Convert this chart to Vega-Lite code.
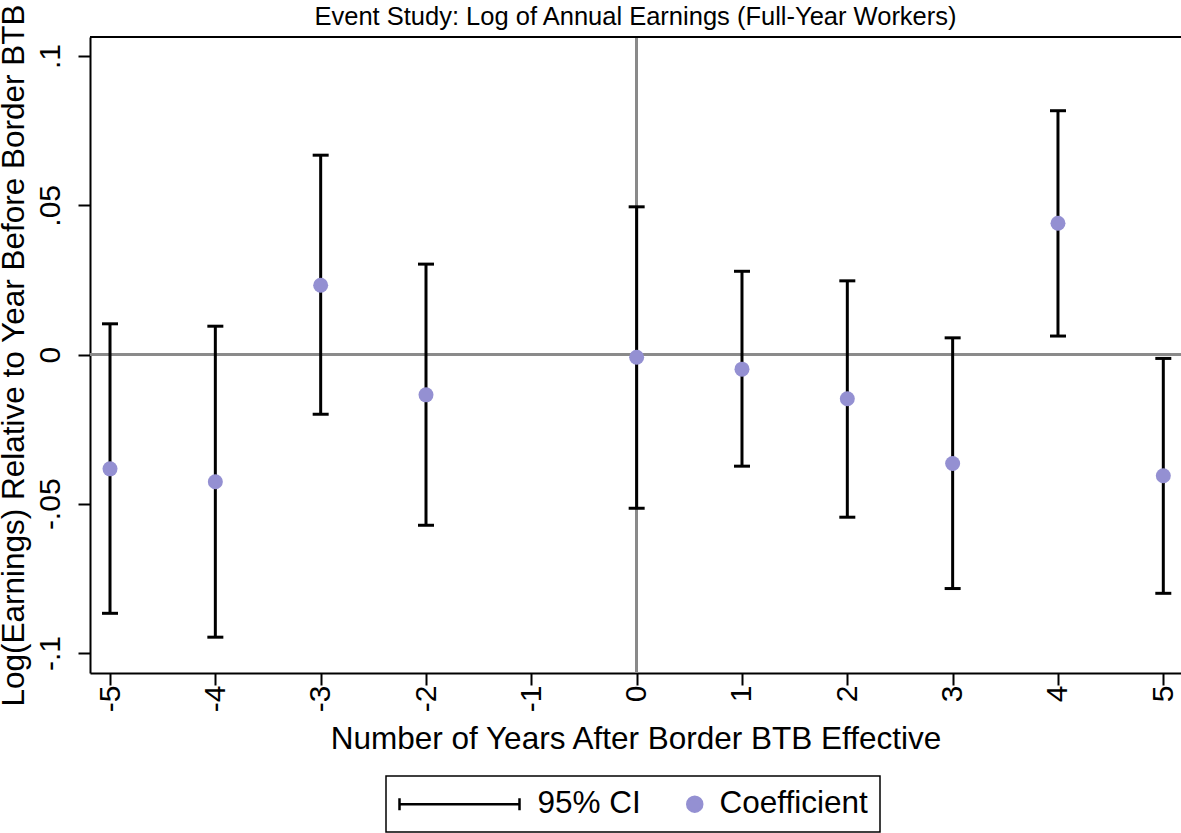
{
  "$schema": "https://vega.github.io/schema/vega-lite/v6.json",
  "autosize": {"type": "none"},
  "padding": {"left": 90, "top": 37, "right": 0, "bottom": 160},
  "width": 1091,
  "height": 636,
  "background": "white",
  "title": {
    "text": "Event Study: Log of Annual Earnings (Full-Year Workers)",
    "font": "Liberation Sans",
    "fontSize": 25.5,
    "fontWeight": "normal",
    "color": "black",
    "anchor": "middle",
    "offset": 8,
    "dy": 35
  },
  "config": {
    "view": {"stroke": null},
    "font": "Liberation Sans",
    "axis": {
      "labelFont": "Liberation Sans",
      "titleFont": "Liberation Sans",
      "labelColor": "black",
      "titleColor": "black",
      "titleFontWeight": "normal",
      "domainColor": "black",
      "domainWidth": 2,
      "tickColor": "black",
      "tickWidth": 2,
      "grid": false,
      "labelFlush": false,
      "labelOverlap": false
    }
  },
  "data": {
    "values": [
      {"k": -5, "coef": -0.0383, "lo": -0.0867, "hi": 0.0103, "ci": "95% CI", "est": "Coefficient"},
      {"k": -4, "coef": -0.0426, "lo": -0.0947, "hi": 0.0095, "ci": "95% CI", "est": "Coefficient"},
      {"k": -3, "coef": 0.0232, "lo": -0.0200, "hi": 0.0668, "ci": "95% CI", "est": "Coefficient"},
      {"k": -2, "coef": -0.0135, "lo": -0.0572, "hi": 0.0303, "ci": "95% CI", "est": "Coefficient"},
      {"k": 0, "coef": -0.0009, "lo": -0.0515, "hi": 0.0495, "ci": "95% CI", "est": "Coefficient"},
      {"k": 1, "coef": -0.0049, "lo": -0.0374, "hi": 0.0279, "ci": "95% CI", "est": "Coefficient"},
      {"k": 2, "coef": -0.0148, "lo": -0.0545, "hi": 0.0247, "ci": "95% CI", "est": "Coefficient"},
      {"k": 3, "coef": -0.0365, "lo": -0.0784, "hi": 0.0056, "ci": "95% CI", "est": "Coefficient"},
      {"k": 4, "coef": 0.0440, "lo": 0.0062, "hi": 0.0817, "ci": "95% CI", "est": "Coefficient"},
      {"k": 5, "coef": -0.0406, "lo": -0.0800, "hi": -0.0013, "ci": "95% CI", "est": "Coefficient"}
    ]
  },
  "layer": [
    {
      "mark": {"type": "rule", "color": "#8a8a8a", "strokeWidth": 2},
      "encoding": {
        "y": {
          "datum": 0,
          "type": "quantitative",
          "axis": {
            "orient": "left",
            "values": [-0.1, -0.05, 0, 0.05, 0.1],
            "labelExpr": "datum.value === 0 ? '0' : (datum.value < 0 ? '-' : '') + replace(format(abs(datum.value), '.2~f'), '0.', '.')",
            "labelAngle": 270,
            "labelAlign": "center",
            "labelBaseline": "bottom",
            "labelFontSize": 30,
            "labelPadding": 13,
            "tickSize": 12,
            "title": "Log(Earnings) Relative to Year Before Border BTB",
            "titleFontSize": 31.5,
            "titlePadding": 5
          }
        }
      }
    },
    {
      "mark": {"type": "rule", "color": "#8a8a8a", "strokeWidth": 2},
      "encoding": {
        "x": {
          "datum": 0,
          "type": "quantitative",
          "axis": {
            "orient": "bottom",
            "values": [-5, -4, -3, -2, -1, 0, 1, 2, 3, 4, 5],
            "labelExpr": "(datum.value < 0 ? '-' : '') + abs(datum.value)",
            "labelAngle": 270,
            "labelFontSize": 30,
            "labelPadding": 0,
            "tickSize": 12,
            "title": "Number of Years After Border BTB Effective",
            "titleFontSize": 31.5,
            "titlePadding": 12
          }
        }
      }
    },
    {
      "mark": {"type": "rule", "strokeWidth": 3},
      "encoding": {
        "x": {
          "field": "k",
          "type": "quantitative",
          "scale": {"domain": [-5.19, 5.168], "nice": false, "zero": false},
          "axis": {
            "orient": "bottom",
            "values": [-5, -4, -3, -2, -1, 0, 1, 2, 3, 4, 5],
            "labelExpr": "(datum.value < 0 ? '-' : '') + abs(datum.value)",
            "labelAngle": 270,
            "labelFontSize": 30,
            "labelPadding": 0,
            "tickSize": 12,
            "title": "Number of Years After Border BTB Effective",
            "titleFontSize": 31.5,
            "titlePadding": 12
          }
        },
        "y": {
          "field": "lo",
          "type": "quantitative",
          "scale": {"domain": [-0.1067, 0.1064], "nice": false, "zero": false},
          "axis": {
            "orient": "left",
            "values": [-0.1, -0.05, 0, 0.05, 0.1],
            "labelExpr": "datum.value === 0 ? '0' : (datum.value < 0 ? '-' : '') + replace(format(abs(datum.value), '.2~f'), '0.', '.')",
            "labelAngle": 270,
            "labelAlign": "center",
            "labelBaseline": "bottom",
            "labelFontSize": 30,
            "labelPadding": 13,
            "tickSize": 12,
            "title": "Log(Earnings) Relative to Year Before Border BTB",
            "titleFontSize": 31.5,
            "titlePadding": 5
          }
        },
        "y2": {"field": "hi"},
        "color": {
          "field": "ci",
          "type": "nominal",
          "scale": {"domain": ["95% CI", "Coefficient"], "range": ["#000000", "#9490d2"]},
          "legend": {
            "title": null,
            "orient": "none",
            "legendX": 296,
            "legendY": 739,
            "direction": "horizontal",
            "strokeColor": "black",
            "fillColor": "white",
            "padding": 12,
            "labelFont": "Liberation Sans",
            "labelFontSize": 31.5,
            "labelColor": "black",
            "labelLimit": 300,
            "labelOffset": 9,
            "columnPadding": 38,
            "symbolSize": 225,
            "symbolStrokeWidth": 2.5,
            "encode": {
              "legend": {
                "update": {"strokeWidth": {"value": 1.5}}
              },
              "symbols": {
                "update": {
                  "shape": {"signal": "datum.value === '95% CI' ? 'M-1.9,0H14.1M-1.9,-0.8V0.8M14.1,-0.8V0.8' : 'circle'"},
                  "fill": {"signal": "datum.value === '95% CI' ? 'transparent' : '#9490d2'"},
                  "stroke": {"signal": "datum.value === '95% CI' ? '#000000' : 'transparent'"},
                  "strokeWidth": {"value": 2.5},
                  "opacity": {"value": 1},
                  "size": {"value": 225}
                }
              },
              "labels": {
                "update": {
                  "dx": {"signal": "datum.value === '95% CI' ? 99 : 0"}
                }
              }
            }
          }
        }
      }
    },
    {
      "mark": {"type": "tick", "orient": "horizontal", "color": "black", "thickness": 3, "size": 16, "opacity": 1},
      "encoding": {
        "x": {
          "field": "k",
          "type": "quantitative",
          "axis": {
            "orient": "bottom",
            "values": [-5, -4, -3, -2, -1, 0, 1, 2, 3, 4, 5],
            "labelExpr": "(datum.value < 0 ? '-' : '') + abs(datum.value)",
            "labelAngle": 270,
            "labelFontSize": 30,
            "labelPadding": 0,
            "tickSize": 12,
            "title": "Number of Years After Border BTB Effective",
            "titleFontSize": 31.5,
            "titlePadding": 12
          }
        },
        "y": {
          "field": "hi",
          "type": "quantitative",
          "axis": {
            "orient": "left",
            "values": [-0.1, -0.05, 0, 0.05, 0.1],
            "labelExpr": "datum.value === 0 ? '0' : (datum.value < 0 ? '-' : '') + replace(format(abs(datum.value), '.2~f'), '0.', '.')",
            "labelAngle": 270,
            "labelAlign": "center",
            "labelBaseline": "bottom",
            "labelFontSize": 30,
            "labelPadding": 13,
            "tickSize": 12,
            "title": "Log(Earnings) Relative to Year Before Border BTB",
            "titleFontSize": 31.5,
            "titlePadding": 5
          }
        }
      }
    },
    {
      "mark": {"type": "tick", "orient": "horizontal", "color": "black", "thickness": 3, "size": 16, "opacity": 1},
      "encoding": {
        "x": {
          "field": "k",
          "type": "quantitative",
          "axis": {
            "orient": "bottom",
            "values": [-5, -4, -3, -2, -1, 0, 1, 2, 3, 4, 5],
            "labelExpr": "(datum.value < 0 ? '-' : '') + abs(datum.value)",
            "labelAngle": 270,
            "labelFontSize": 30,
            "labelPadding": 0,
            "tickSize": 12,
            "title": "Number of Years After Border BTB Effective",
            "titleFontSize": 31.5,
            "titlePadding": 12
          }
        },
        "y": {
          "field": "lo",
          "type": "quantitative",
          "axis": {
            "orient": "left",
            "values": [-0.1, -0.05, 0, 0.05, 0.1],
            "labelExpr": "datum.value === 0 ? '0' : (datum.value < 0 ? '-' : '') + replace(format(abs(datum.value), '.2~f'), '0.', '.')",
            "labelAngle": 270,
            "labelAlign": "center",
            "labelBaseline": "bottom",
            "labelFontSize": 30,
            "labelPadding": 13,
            "tickSize": 12,
            "title": "Log(Earnings) Relative to Year Before Border BTB",
            "titleFontSize": 31.5,
            "titlePadding": 5
          }
        }
      }
    },
    {
      "mark": {"type": "circle", "size": 225, "opacity": 1},
      "encoding": {
        "x": {
          "field": "k",
          "type": "quantitative",
          "axis": {
            "orient": "bottom",
            "values": [-5, -4, -3, -2, -1, 0, 1, 2, 3, 4, 5],
            "labelExpr": "(datum.value < 0 ? '-' : '') + abs(datum.value)",
            "labelAngle": 270,
            "labelFontSize": 30,
            "labelPadding": 0,
            "tickSize": 12,
            "title": "Number of Years After Border BTB Effective",
            "titleFontSize": 31.5,
            "titlePadding": 12
          }
        },
        "y": {
          "field": "coef",
          "type": "quantitative",
          "axis": {
            "orient": "left",
            "values": [-0.1, -0.05, 0, 0.05, 0.1],
            "labelExpr": "datum.value === 0 ? '0' : (datum.value < 0 ? '-' : '') + replace(format(abs(datum.value), '.2~f'), '0.', '.')",
            "labelAngle": 270,
            "labelAlign": "center",
            "labelBaseline": "bottom",
            "labelFontSize": 30,
            "labelPadding": 13,
            "tickSize": 12,
            "title": "Log(Earnings) Relative to Year Before Border BTB",
            "titleFontSize": 31.5,
            "titlePadding": 5
          }
        },
        "color": {"field": "est", "type": "nominal", "legend": null}
      }
    },
    {
      "mark": {"type": "rule", "color": "black", "strokeWidth": 2},
      "encoding": {
        "y": {
          "datum": 0.1064,
          "type": "quantitative",
          "axis": {
            "orient": "left",
            "values": [-0.1, -0.05, 0, 0.05, 0.1],
            "labelExpr": "datum.value === 0 ? '0' : (datum.value < 0 ? '-' : '') + replace(format(abs(datum.value), '.2~f'), '0.', '.')",
            "labelAngle": 270,
            "labelAlign": "center",
            "labelBaseline": "bottom",
            "labelFontSize": 30,
            "labelPadding": 13,
            "tickSize": 12,
            "title": "Log(Earnings) Relative to Year Before Border BTB",
            "titleFontSize": 31.5,
            "titlePadding": 5
          }
        }
      }
    }
  ]
}
